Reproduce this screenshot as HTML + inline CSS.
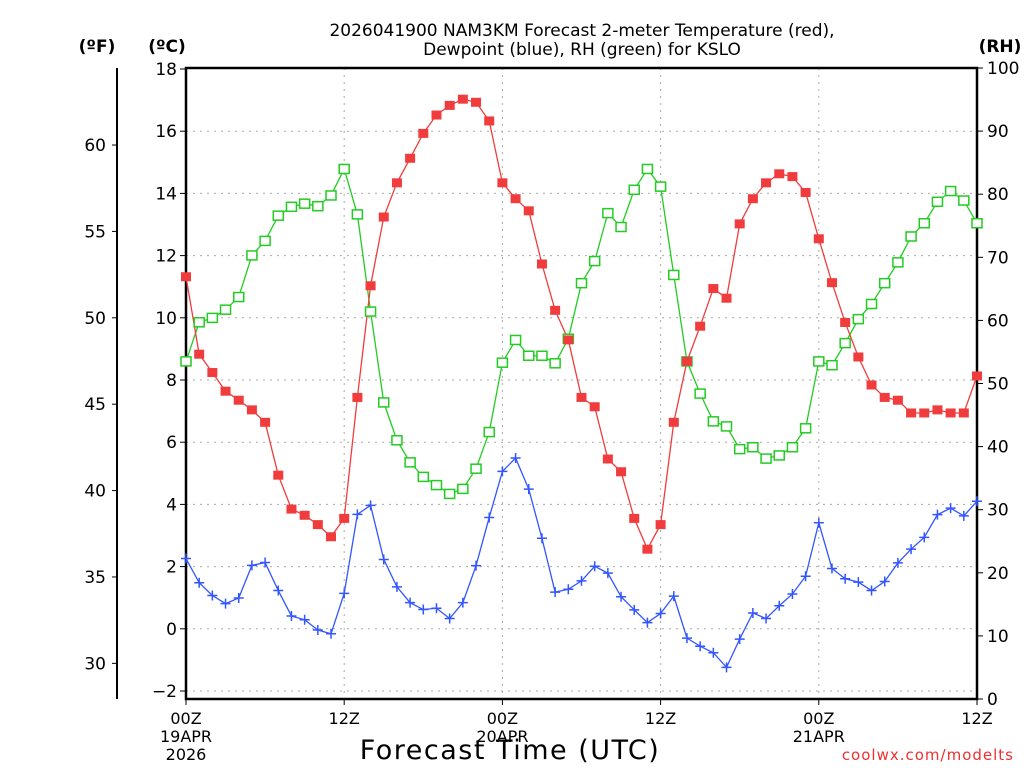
<!DOCTYPE html>
<html><head><meta charset="utf-8"><style>
body{margin:0;background:#fff}
svg{display:block;font-family:"DejaVu Sans","Liberation Sans",sans-serif}
</style></head><body>
<svg id="chart" width="1024" height="768" xmlns="http://www.w3.org/2000/svg">
<g id="grid"></g>
<g id="axes"></g>
<g id="series"></g>
<text x="582" y="36" text-anchor="middle" font-size="17">2026041900 NAM3KM Forecast 2-meter Temperature (red),</text>
<text x="582" y="55" text-anchor="middle" font-size="17">Dewpoint (blue), RH (green) for KSLO</text>
<text x="97" y="52" text-anchor="middle" font-size="17" font-weight="bold">(ºF)</text>
<text x="167" y="52" text-anchor="middle" font-size="17" font-weight="bold">(ºC)</text>
<text x="1000" y="52" text-anchor="middle" font-size="17" font-weight="bold">(RH)</text>
<text x="510" y="759" text-anchor="middle" font-size="27" letter-spacing="1.5">Forecast Time (UTC)</text>
<text x="1014" y="760" text-anchor="end" font-size="15" fill="#f03030" letter-spacing="1">coolwx.com/modelts</text>
</svg>
<script>
const hours = [];
for (let i = 0; i <= 60; i++) hours.push(i);
const tempC = [11.32,8.83,8.24,7.64,7.35,7.04,6.64,4.94,3.85,3.65,3.35,2.96,3.55,7.44,11.03,13.24,14.34,15.13,15.93,16.52,16.83,17.03,16.93,16.33,14.34,13.83,13.44,11.73,10.24,9.29,7.44,7.14,5.46,5.05,3.55,2.56,3.35,6.64,8.6,9.73,10.94,10.63,13.02,13.83,14.34,14.63,14.54,14.03,12.54,11.13,9.85,8.74,7.84,7.44,7.35,6.94,6.94,7.04,6.94,6.94,8.13];
const dewC = [2.26,1.48,1.07,0.81,0.99,2.04,2.13,1.23,0.41,0.29,-0.04,-0.16,1.14,3.68,3.97,2.23,1.35,0.84,0.62,0.66,0.33,0.84,2.03,3.58,5.06,5.49,4.49,2.91,1.18,1.27,1.54,2.01,1.79,1.03,0.61,0.2,0.49,1.05,-0.3,-0.56,-0.77,-1.24,-0.33,0.51,0.33,0.74,1.12,1.69,3.41,1.94,1.61,1.5,1.23,1.52,2.12,2.56,2.94,3.67,3.88,3.63,4.1];
const rh = [53.5,59.7,60.4,61.7,63.7,70.3,72.6,76.6,78.0,78.5,78.1,79.8,84.0,76.8,61.4,47.0,41.0,37.5,35.2,33.9,32.5,33.3,36.5,42.3,53.3,56.9,54.4,54.4,53.2,57.1,65.9,69.4,77.0,74.8,80.7,84.0,81.2,67.2,53.5,48.4,44.0,43.2,39.6,39.9,38.1,38.6,39.9,42.9,53.5,52.9,56.4,60.2,62.6,65.9,69.2,73.3,75.4,78.8,80.5,79.0,75.4];
const cTicks = [18,16,14,12,10,8,6,4,2,0,-2];
const fTicks = [60,55,50,45,40,35,30];
const rhTicks = [100,90,80,70,60,50,40,30,20,10,0];
const xTickHours = [0,12,24,36,48,60];
const xTickLine1 = ["00Z","12Z","00Z","12Z","00Z","12Z"];
const xTickLine2 = ["19APR","","20APR","","21APR",""];
const xTickLine3 = ["2026","","","","",""];

const L=186,R=977,T=68,B=699;
const xS = h => L + (R-L)*h/60;
const yC = c => 69 + (18-c)*31.1;
const yF = f => yC((f-32)*5/9);
const yRH = r => B - (B-T)*r/100;
const NS="http://www.w3.org/2000/svg";
function mk(tag, attrs, parent, txt){const e=document.createElementNS(NS,tag);for(const k in attrs)e.setAttribute(k,attrs[k]);if(txt!==undefined)e.textContent=txt;parent.appendChild(e);return e;}
const grid=document.getElementById('grid'), axes=document.getElementById('axes'), series=document.getElementById('series');

cTicks.forEach(c=>{
  const y=yC(c);
  if(c!==18){const g=mk('line',{x1:L,x2:R,y1:y,y2:y,stroke:'#aaa','stroke-dasharray':'2,5','stroke-width':1},grid);
  
  }
  mk('line',{x1:L-6,x2:L,y1:y,y2:y,stroke:'#000'},axes);
  const t=mk('text',{x:L-9,y:y+6,'text-anchor':'end','font-size':17},axes,c<0?'\u2212'+(-c):String(c));
  
  
});
xTickHours.forEach((h,i)=>{
  const x=xS(h);
  if(h>0&&h<60){const g=mk('line',{x1:x,x2:x,y1:T,y2:B,stroke:'#aaa','stroke-dasharray':'2,5'},grid);
  
  }
  mk('line',{x1:x,x2:x,y1:B,y2:B+6,stroke:'#000'},axes);
  [xTickLine1[i],xTickLine2[i],xTickLine3[i]].forEach((s,j)=>{
    if(!s)return;
    const t=mk('text',{x:x,y:724+j*18,'text-anchor':'middle','font-size':16},axes,s);
    
    
  });
});
fTicks.forEach(f=>{
  const y=yF(f);
  mk('line',{x1:112,x2:117,y1:y,y2:y,stroke:'#000'},axes);
  const t=mk('text',{x:106,y:y+6,'text-anchor':'end','font-size':17},axes,String(f));
  
  
});
mk('line',{x1:117,x2:117,y1:T,y2:B,stroke:'#000','stroke-width':2},axes);
rhTicks.forEach(r=>{
  const y=yRH(r);
  mk('line',{x1:R,x2:R+6,y1:y,y2:y,stroke:'#000'},axes);
  const t=mk('text',{x:R+10,y:y+6,'font-size':17},axes,String(r));
  
  
});
mk('rect',{x:L,y:T,width:R-L,height:B-T,fill:'none',stroke:'#000','stroke-width':2.5},axes);

function line(vals,yf,color,name){
  const p=mk('polyline',{points:vals.map((v,i)=>xS(hours[i])+','+yf(v)).join(' '),fill:'none',stroke:color,'stroke-width':1.3},series);
  
  
}
line(rh,yRH,'#22cc22','rh-line');
line(tempC,yC,'#f03c3c','temperature-line');
line(dewC,yC,'#3355ff','dewpoint-line');
rh.forEach((v,i)=>{
  const m=mk('rect',{x:xS(hours[i])-5,y:yRH(v)-4.5,width:10,height:9,fill:'#fff',stroke:'#22cc22','stroke-width':1.5},series);
  
  
});
tempC.forEach((v,i)=>{
  const m=mk('rect',{x:xS(hours[i])-5,y:yC(v)-4.5,width:10,height:9,fill:'#f03c3c'},series);
  
  
});
dewC.forEach((v,i)=>{
  const x=xS(hours[i]),y=yC(v);
  const m=mk('path',{d:`M${x-5},${y}H${x+5}M${x},${y-5}V${y+5}`,stroke:'#3355ff','stroke-width':1.5},series);
  
  
});
</script>
</body></html>
